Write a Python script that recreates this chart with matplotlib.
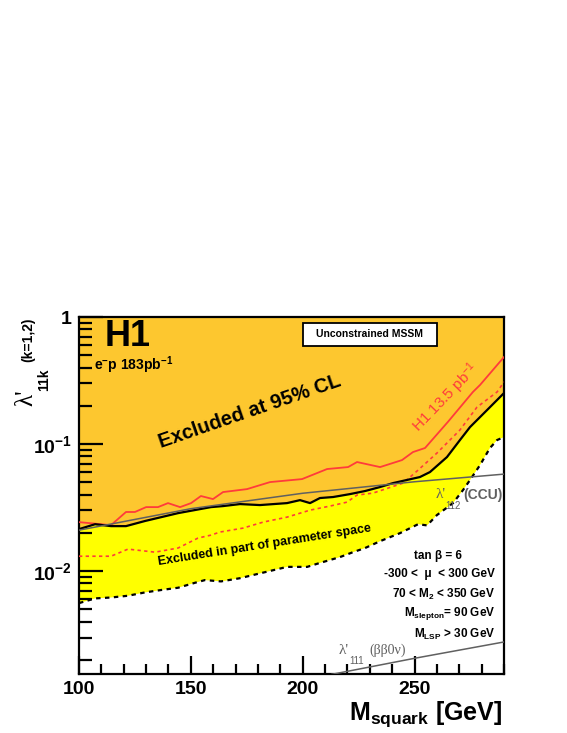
import matplotlib
matplotlib.use("Agg")
import matplotlib.pyplot as plt
from matplotlib.ticker import NullFormatter, MultipleLocator, LogLocator
from matplotlib.patches import Rectangle

plt.rcParams['font.family'] = ['Liberation Sans', 'DejaVu Sans']
plt.rcParams['mathtext.fontset'] = 'custom'
plt.rcParams['mathtext.rm'] = 'Liberation Sans'
plt.rcParams['mathtext.bf'] = 'Liberation Sans:bold'
plt.rcParams['mathtext.it'] = 'Liberation Sans:italic'

# --- data ---
# black solid: 95% CL limit, e- p 183 pb-1 (lower edge of the orange area)
lim_mass = [100, 107.2, 114.3, 121.0, 129.5, 144.3, 159.0, 164.4, 172.0, 180.9,
            193.0, 198.8, 203.3, 207.7, 213.6, 221.2, 227.9, 234.6, 240.4, 252.4,
            256.9, 264.5, 270.3, 274.8, 282.4, 290]
lim_lam = [0.0214, 0.0234, 0.0226, 0.0226, 0.0248, 0.0286, 0.0319, 0.0325, 0.0337, 0.0331,
           0.0343, 0.0362, 0.0343, 0.0376, 0.0383, 0.0404, 0.0427, 0.0459, 0.0493, 0.0550,
           0.0602, 0.0790, 0.1075, 0.136, 0.185, 0.252]

# black dashed: exclusion in part of the parameter space (lower edge of yellow)
part_mass = [100, 107.2, 114.3, 121.9, 129.5, 136.7, 144.3, 151.9, 156.3, 163.5,
             172.0, 180.9, 193.0, 202.0, 207.7, 216.7, 222.5, 227.9, 234.6, 243.5,
             251.6, 255.6, 260.0, 267.2, 271.7, 274.8, 279.3, 283.7, 286.9, 290]
part_lam = [0.0056, 0.0061, 0.0062, 0.0064, 0.0068, 0.0071, 0.0074, 0.0081, 0.0085, 0.0083,
            0.0088, 0.0096, 0.0108, 0.0108, 0.0116, 0.0129, 0.0141, 0.0152, 0.0172, 0.0199,
            0.0234, 0.0229, 0.0276, 0.0343, 0.0435, 0.0521, 0.0684, 0.093, 0.1075, 0.1135]

# red solid: H1 13.5 pb-1 limit
old_mass = [100, 114.3, 121.0, 125.0, 130.0, 135.3, 139.8, 145.2, 150.1, 154.5,
            159.9, 164.4, 175.1, 185.4, 199.7, 206.4, 210.9, 220.3, 224.3, 234.6,
            244.4, 249.3, 254.7, 265.0, 276.1, 279.3, 290]
old_lam = [0.0243, 0.0230, 0.0292, 0.0292, 0.0319, 0.0319, 0.0343, 0.0319, 0.0343, 0.0390,
           0.0369, 0.0419, 0.0442, 0.0502, 0.0530, 0.0591, 0.0636, 0.0659, 0.0722, 0.0659,
           0.0748, 0.0865, 0.0931, 0.150, 0.257, 0.292, 0.484]

# red dashed: H1 13.5 pb-1, part of parameter space
oldp_mass = [100, 114.3, 121.9, 134.0, 144.3, 153.2, 159.0, 163.0, 173.3, 182.3,
             193.0, 203.3, 212.2, 219.8, 224.3, 231.4, 244.9, 251.6, 260.0, 270.3,
             277.9, 286.9, 290]
oldp_lam = [0.0131, 0.0131, 0.0149, 0.0141, 0.0152, 0.0182, 0.0192, 0.0203, 0.0218, 0.0243,
            0.0266, 0.0302, 0.0325, 0.0349, 0.0397, 0.0411, 0.0493, 0.0624, 0.0849, 0.129,
            0.195, 0.257, 0.308]

# indirect bounds
ccu_mass = [100, 150, 200, 250, 290]
ccu_lam = [0.0210, 0.0310, 0.0410, 0.0505, 0.0580]
bb_mass = [213, 250, 290]
bb_lam = [0.00154, 0.00206, 0.00277]

orange = '#FDC72F'
yellow = '#FFFF00'
red = '#FF3B3B'
grey = '#606060'

fig = plt.figure(figsize=(5.67, 7.33), dpi=100)
ax = fig.add_axes([79/567, 1-674/733, 425/567, 357/733])
ax.set_yscale('log')
ax.set_xlim(100, 290)
ax.set_ylim(1.55e-3, 1)

ax.fill_between(lim_mass, lim_lam, 1, color=orange, lw=0, zorder=1)
ax.fill(lim_mass + part_mass[::-1], lim_lam + part_lam[::-1], color=yellow, lw=0, zorder=1)

ax.plot(old_mass, old_lam, color=red, lw=1.3, zorder=3)
ax.plot(oldp_mass, oldp_lam, color=red, lw=1.2, ls=(0, (2, 2)), zorder=3)
ax.plot(lim_mass, lim_lam, color='black', lw=1.6, zorder=4)
ax.plot(part_mass, part_lam, color='black', lw=1.6, ls=(0, (2, 2)), zorder=4)
ax.plot(ccu_mass, ccu_lam, color=grey, lw=1.1, zorder=5)
ax.plot(bb_mass, bb_lam, color=grey, lw=1.1, zorder=5)

# axes style (ROOT-like)
for s in ax.spines.values():
    s.set_linewidth(1.6)
ax.tick_params(which='both', direction='in', top=False, right=False, width=1.6)
ax.tick_params(axis='y', which='major', length=17, pad=5)
ax.tick_params(axis='y', which='minor', length=9)
ax.tick_params(axis='x', which='major', length=13, pad=5)
ax.tick_params(axis='x', which='minor', length=7)
ax.xaxis.set_major_locator(MultipleLocator(50))
ax.xaxis.set_minor_locator(MultipleLocator(10))
ax.set_xticks([100, 150, 200, 250])
ax.set_xticklabels(['100', '150', '200', '250'], fontsize=14, fontweight='bold')
ax.yaxis.set_minor_locator(LogLocator(base=10, subs=range(2, 10)))
ax.yaxis.set_minor_formatter(NullFormatter())
ax.set_yticks([0.01, 0.1, 1])
ax.set_yticklabels([r'$\mathbf{10^{-2}}$', r'$\mathbf{10^{-1}}$', r'$\mathbf{1}$'], fontsize=14)

# axis titles
fig.text(502/567, 1-720/733, r'M$_{\mathbf{squark}}$ [GeV]', fontsize=18, fontweight='bold',
         ha='right', va='baseline')
fig.text(26/567, 1-398/733, "λ'", fontsize=18, family='Liberation Serif', rotation=90,
         ha='center', va='center')
fig.text(44/567, 1-380/733, '11k', fontsize=10, fontweight='bold', rotation=90,
         ha='center', va='center')
fig.text(28/567, 1-340/733, '(k=1,2)', fontsize=10, fontweight='bold', rotation=90,
         ha='center', va='center')

# labels inside the plot
fig.text(128/567, 1-336/733, 'H1', fontsize=26, fontweight='bold', ha='center', va='center')
fig.text(94/567, 1-365/733, r'e$^{\mathbf{-}}$p 183pb$^{\mathbf{-1}}$', fontsize=10,
         fontweight='bold', ha='left', va='center')
fig.text(250/567, 1-412/733, 'Excluded at 95% CL', fontsize=14.5, fontweight='bold',
         rotation=19, ha='center', va='center')
fig.text(265/567, 1-545/733, 'Excluded in part of parameter space', fontsize=9,
         fontweight='bold', rotation=9, ha='center', va='center')
fig.text(446/567, 1-398/733, r'H1 13.5 pb$^{-1}$', fontsize=11, color=red,
         rotation=46, ha='center', va='center')

fig.patches.append(Rectangle((303/567, 1-346/733), 134/567, 23/733, transform=fig.transFigure,
                             facecolor='white', edgecolor='black', lw=1.3, zorder=5))
fig.text(370/567, 1-334.5/733, 'Unconstrained MSSM', fontsize=7.5, fontweight='bold',
         ha='center', va='center', zorder=6)

# indirect bound labels
fig.text(441/567, 1-494/733, "λ'", fontsize=11, family='Liberation Serif', color=grey,
         ha='center', va='center')
fig.text(453/567, 1-506/733, '112', fontsize=7, color=grey, ha='center', va='center')
fig.text(483/567, 1-495/733, '(CCU)', fontsize=10, fontweight='bold', color=grey,
         ha='center', va='center')
fig.text(344/567, 1-650/733, "λ'", fontsize=11, family='Liberation Serif', color=grey,
         ha='center', va='center')
fig.text(357/567, 1-661/733, '111', fontsize=7, color=grey, ha='center', va='center')
fig.text(388/567, 1-650/733, '(ββ0ν)', fontsize=10, family='Liberation Serif', color=grey,
         ha='center', va='center')

# parameter box
fig.text(438/567, 1-556/733, 'tan β = 6', fontsize=8.5, fontweight='bold',
         ha='center', va='center')
params = ['-300 <  μ  < 300 GeV',
          r'70 < M$_{\mathbf{2}}$ < 350 GeV',
          r'M$_{\mathbf{slepton}}$= 90 GeV',
          r'M$_{\mathbf{LSP}}$ > 30 GeV']
for i, p in enumerate(params):
    fig.text(495/567, 1-(574 + 20*i)/733, p, fontsize=8.5, fontweight='bold',
             ha='right', va='center')

fig.savefig('out.png', dpi=100)
